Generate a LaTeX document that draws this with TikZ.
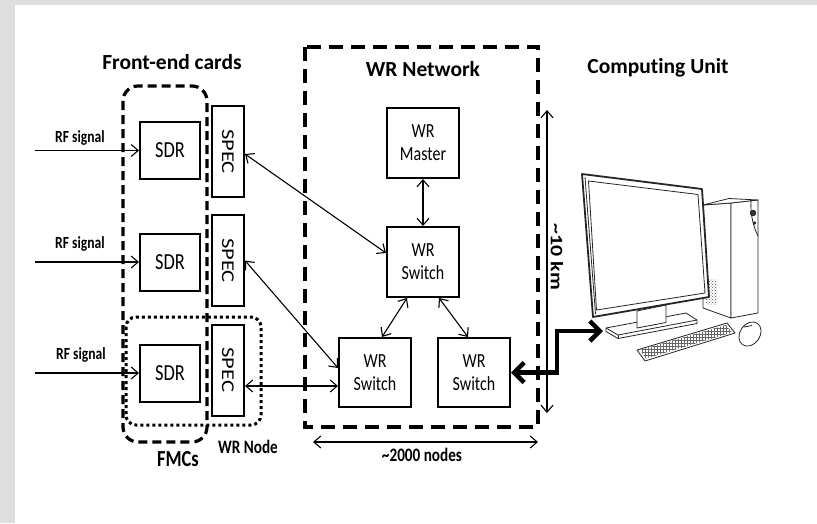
\documentclass[tikz,border=0pt]{standalone}
\usepackage{fontspec}
\setmainfont{Carlito}[Ligatures=NoCommon]
\newfontfamily\narrowf{Carlito}[FakeStretch=0.8, Ligatures=NoCommon]
\newfontfamily\widef{Carlito}[FakeStretch=1.25, Ligatures=NoCommon]
\newcommand\spectextfont{\widef\fontsize{18}{18}\selectfont}
\usetikzlibrary{arrows.meta,calc,patterns}
\definecolor{framegray}{RGB}{222,222,222}

\tikzset{
  title/.style={font=\bfseries\fontsize{21.5}{24}\selectfont, anchor=base, inner sep=0},
  smalllabel/.style={font=\narrowf\bfseries\fontsize{17}{20}\selectfont, anchor=base, inner sep=0},
  biglabel/.style={font=\narrowf\bfseries\fontsize{23}{26}\selectfont, anchor=base, inner sep=0},
  sdrbox/.style={draw, line width=2pt, minimum width=60pt, minimum height=57pt, inner sep=0,
    font=\narrowf\fontsize{23}{26}\selectfont},
  specbox/.style={draw, line width=2pt, minimum width=32pt, minimum height=91pt, inner sep=0},
  wrbox/.style={draw, line width=2pt, minimum width=72pt, minimum height=70pt, inner sep=0,
    align=center, font=\narrowf\fontsize{20}{23}\selectfont},
  barb/.tip={Straight Barb[length=7pt,width=12pt]},
  fatbarb/.tip={Straight Barb[length=10pt,width=20pt]},
  link/.style={line width=1.1pt, barb-barb},
  feed/.style={line width=1.1pt, -barb},
  uplink/.style={line width=4.5pt, fatbarb-fatbarb},
  groupbox/.style={line width=3.2pt, dash pattern=on 9pt off 5pt, rounded corners=15pt},
  nodebox/.style={line width=3pt, dash pattern=on 3pt off 3pt, rounded corners=10pt},
  netbox/.style={line width=3.5pt, dash pattern=on 14pt off 8pt},
  pcline/.style={draw=black!85, line width=0.8pt, line join=round},
}

\begin{document}
\begin{tikzpicture}[x=1pt, y=-1pt]
\useasboundingbox (0,0) rectangle (817,523);
% page frame
\fill[framegray] (0,0) rectangle (817,523);
\fill[white] (15,5) rectangle (817,523);

% titles
\node[title] (tfe) at (172,69.5) {Front-end cards};
\node[title] (tnet) at (423,76.5) {WR Network};
\node[title] (tcu) at (658,73) {Computing Unit};

% front-end cards
\node[sdrbox] (sdr1) at (170,150.5) {SDR};
\node[sdrbox] (sdr2) at (170,262) {SDR};
\node[sdrbox] (sdr3) at (170,373) {SDR};
\node[specbox] (spec1) at (228,151.5) {\rotatebox{-90}{\spectextfont SPEC}};
\node[specbox] (spec2) at (228,260.5) {\rotatebox{-90}{\spectextfont SPEC}};
\node[specbox] (spec3) at (228,370) {\rotatebox{-90}{\spectextfont SPEC}};

% RF inputs
\coordinate (rf1) at (35,150.5);
\coordinate (rf2) at (35,262);
\coordinate (rf3) at (35,373);
\draw[feed] (rf1) -- (sdr1.west);
\draw[feed] (rf2) -- (sdr2.west);
\draw[feed] (rf3) -- (sdr3.west);
\node[smalllabel] (lrf1) at (80,142.5) {RF signal};
\node[smalllabel] (lrf2) at (80,248) {RF signal};
\node[smalllabel] (lrf3) at (81,359) {RF signal};

% grouping outlines
\draw[groupbox] (123,86) rectangle (207,442);
\draw[nodebox] (126,317) rectangle (261,425);
\node[biglabel] (lfmc) at (178,466.5) {FMCs};
\node[smalllabel, font=\narrowf\bfseries\fontsize{19}{21}\selectfont] (lnode) at (248,453.5) {WR Node};

% WR network
\draw[netbox] (305,47) rectangle (538,427);
\node[wrbox] (master) at (423,143) {WR\\Master};
\node[wrbox] (sw0) at (423,262) {WR\\Switch};
\node[wrbox, minimum height=69pt] (swL) at (375,372.5) {WR\\Switch};
\node[wrbox, minimum height=69pt] (swR) at (474,372.5) {WR\\Switch};

\draw[link] (master.south) -- (sw0.north);
\draw[link] ($(sw0.south)+(-16,0)$) -- ($(swL.north)+(7,0)$);
\draw[link] ($(sw0.south)+(16,0)$) -- ($(swR.north)+(-6,0)$);
\draw[link] ($(spec1.east)+(0,2.5)$) -- ($(sw0.west)+(0,-9)$);
\draw[link] (spec2.east) -- ($(swL.west)+(0,-4.5)$);
\draw[link] ($(spec3.east)+(0,16)$) -- ($(swL.west)+(0,13.5)$);

% extent of the network
\coordinate (nl) at (313,442);
\coordinate (nr) at (538,442);
\draw[link] (nl) -- (nr);
\node[smalllabel, font=\narrowf\bfseries\fontsize{19}{21}\selectfont] (lnodes) at (422,461.5) {\textasciitilde 2000 nodes};
\coordinate (kt) at (547,110);
\coordinate (kb) at (547,413);
\draw[link] (kt) -- (kb);
\node[font=\widef\bfseries\fontsize{17.5}{18}\selectfont, rotate=-90, inner sep=0] (lkm) at (557,257) {\textasciitilde 10 km};

% computing unit
\begin{scope}[pcline]
  % tower
  \draw[fill=white] (703,205) -- (731,203) -- (731,318) -- (703,308) -- cycle;
  \draw[fill=white] (731,203) -- (758,200) -- (758,313) -- (731,318) -- cycle;
  \draw[fill=white] (703,205) -- (729,198.5) -- (758,200) -- (731,203) -- cycle;
  \draw (751,200.8) .. controls (750,215) and (754,228) .. (758,236);
  \draw[fill=black!80] (753,213) circle (2.8pt);
  \draw[fill=white] (753,213) circle (1.2pt);
  \draw[fill=black!70] (754.5,223) circle (1.3pt);
  \fill[pattern=crosshatch dots, pattern color=black!70] (706,279) rectangle (717,304);
  % stand and base
  \draw[fill=white] (606,328) -- (686,313) -- (697,320) -- (697,323.5) -- (618,338.5) -- (606,331.5) -- cycle;
  \draw (606,328) -- (618,335) -- (697,320);
  \draw (618,335) -- (618,338.5);
  \draw[fill=white] (637,311) -- (637,328) -- (666,322.5) -- (666,305) -- cycle;
  % monitor
  \draw[fill=white, line width=1.8pt] (582,174) -- (702,189) -- (709,297) -- (593,317) -- cycle;
  \draw (588.5,181) -- (698,194.5) -- (705,293) -- (596.5,310) -- cycle;
  \draw (585,177) -- (595.5,314);
  % keyboard
  \draw[fill=white] (637,350) -- (727,323) -- (735,333) -- (645,361) -- cycle;
  \fill[pattern=grid, pattern color=black!60] (640,350) -- (726,325) -- (732,332.5) -- (646,358.5) -- cycle;
  % mouse
  \draw[fill=white, rotate around={-35:(750,334)}] (750,334) ellipse (10pt and 13pt);
  \draw (744,327) -- (752,325.5);
\end{scope}
\coordinate (pc) at (603,331);
\coordinate (bend) at (557,331);
\draw[uplink] (swR.east) -| (bend) -- (pc);
\end{tikzpicture}
\end{document}
